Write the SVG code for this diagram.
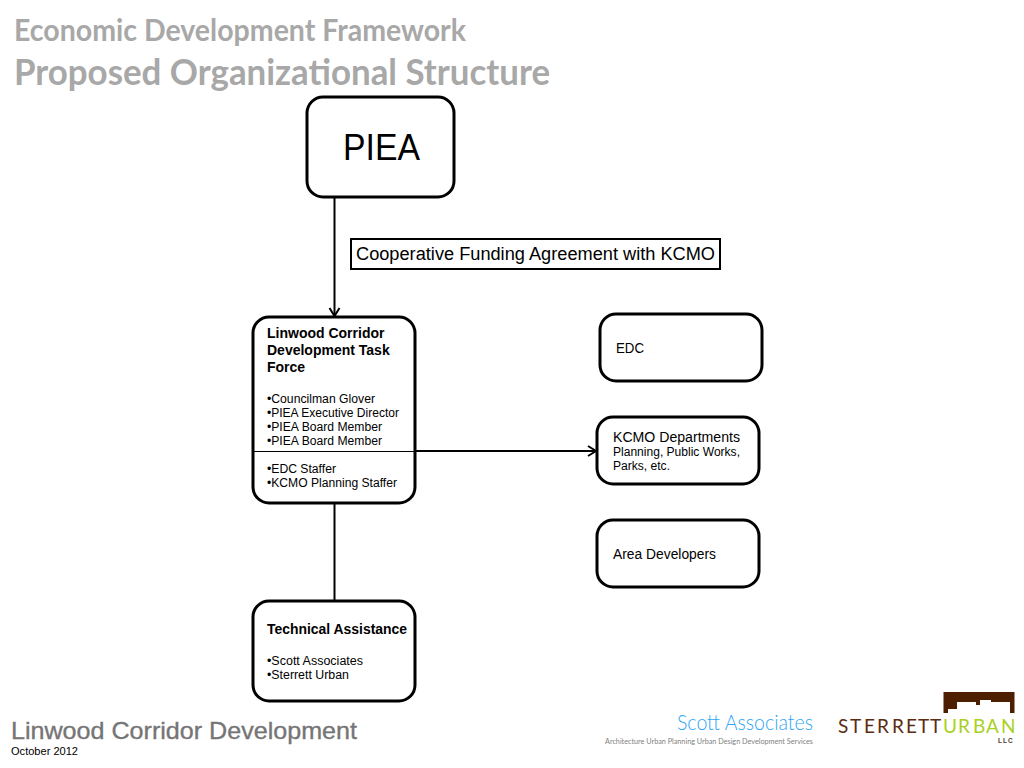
<svg xmlns="http://www.w3.org/2000/svg" width="1024" height="768" viewBox="0 0 1024 768">
<defs>
<marker id="arr" markerUnits="userSpaceOnUse" markerWidth="14" markerHeight="14" refX="10" refY="7" orient="auto"><path d="M2 2L10 7L2 12" fill="none" stroke="#000" stroke-width="2"/></marker>
</defs>
<style>
text{font-family:"Liberation Sans",Arial,sans-serif;fill:#000}
.box{fill:#fff;stroke:#000;stroke-width:3}
.line{stroke:#000;stroke-width:2;fill:none}
.t{font-size:12px}
.b{font-size:14px;font-weight:bold}
.m{font-size:14px}
text.h{font-family:Lato,"Liberation Sans",sans-serif;font-weight:700;fill:#a8a8a8}
text.logo{font-family:Lato,"Liberation Sans",sans-serif;font-size:19px}
</style>
<rect width="1024" height="768" fill="#fff"/>
<g id="title">
<text class="h" x="14" y="41" font-size="30" textLength="452" lengthAdjust="spacingAndGlyphs">Economic Development Framework</text>
<text class="h" x="14" y="85" font-size="37" textLength="536" lengthAdjust="spacingAndGlyphs">Proposed Organizational Structure</text>
</g>
<g id="connectors">
<path class="line" d="M334.500 197V316" marker-end="url(#arr)"/>
<path class="line" d="M415 451H596" marker-end="url(#arr)"/>
<path class="line" d="M334.500 503V601"/>
</g>
<g id="piea">
<rect class="box" x="307" y="97" width="147" height="100" rx="16"/>
<text x="343" y="160" font-size="36" textLength="77" lengthAdjust="spacingAndGlyphs">PIEA</text>
</g>
<g id="funding">
<rect x="351" y="239" width="369" height="30" fill="#fff" stroke="#000" stroke-width="2"/>
<text x="356" y="260" font-size="18" textLength="359" lengthAdjust="spacingAndGlyphs">Cooperative Funding Agreement with KCMO</text>
</g>
<g id="taskforce">
<rect class="box" x="253" y="317" width="162" height="186" rx="16"/>
<path d="M253 451.500H415" stroke="#000" stroke-width="1.200"/>
<text class="b" x="267" y="338">Linwood Corridor</text>
<text class="b" x="267" y="355">Development Task</text>
<text class="b" x="267" y="372">Force</text>
<text class="t" x="267" y="403" textLength="108" lengthAdjust="spacingAndGlyphs">•Councilman Glover</text>
<text class="t" x="267" y="417" textLength="132" lengthAdjust="spacingAndGlyphs">•PIEA Executive Director</text>
<text class="t" x="267" y="431" textLength="115" lengthAdjust="spacingAndGlyphs">•PIEA Board Member</text>
<text class="t" x="267" y="445" textLength="115" lengthAdjust="spacingAndGlyphs">•PIEA Board Member</text>
<text class="t" x="267" y="473" textLength="69" lengthAdjust="spacingAndGlyphs">•EDC Staffer</text>
<text class="t" x="267" y="487" textLength="130" lengthAdjust="spacingAndGlyphs">•KCMO Planning Staffer</text>
</g>
<g id="edc">
<rect class="box" x="600" y="314" width="162" height="67" rx="16"/>
<text class="m" x="616" y="353" textLength="28" lengthAdjust="spacingAndGlyphs">EDC</text>
</g>
<g id="kcmo">
<rect class="box" x="597" y="417" width="162" height="67" rx="16"/>
<text class="m" x="613" y="442" textLength="127" lengthAdjust="spacingAndGlyphs">KCMO Departments</text>
<text class="t" x="613" y="456" textLength="127" lengthAdjust="spacingAndGlyphs">Planning, Public Works,</text>
<text class="t" x="613" y="470" textLength="57" lengthAdjust="spacingAndGlyphs">Parks, etc.</text>
</g>
<g id="developers">
<rect class="box" x="597" y="520" width="162" height="67" rx="16"/>
<text class="m" x="613" y="559" textLength="103" lengthAdjust="spacingAndGlyphs">Area Developers</text>
</g>
<g id="technical">
<rect class="box" x="253" y="601" width="162" height="100" rx="16"/>
<text class="b" x="267" y="634" textLength="140" lengthAdjust="spacingAndGlyphs">Technical Assistance</text>
<text class="t" x="267" y="665" textLength="96" lengthAdjust="spacingAndGlyphs">•Scott Associates</text>
<text class="t" x="267" y="679" textLength="82" lengthAdjust="spacingAndGlyphs">•Sterrett Urban</text>
</g>
<g id="footer">
<text x="11" y="739" font-size="24" style="fill:#757575;stroke:#757575;stroke-width:.35" textLength="346" lengthAdjust="spacingAndGlyphs">Linwood Corridor Development</text>
<text x="11" y="755" font-size="11.200" textLength="67" lengthAdjust="spacingAndGlyphs">October 2012</text>
</g>
<g id="scott-logo">
<text x="677" y="730" font-size="21" style="font-family:Lato,sans-serif;font-weight:300;fill:#2ea6f5" textLength="136" lengthAdjust="spacingAndGlyphs">Scott Associates</text>
<text x="605" y="743.500" font-size="7.500" style="font-family:Lato,sans-serif;font-weight:400;fill:#7f7f7f" textLength="208" lengthAdjust="spacingAndGlyphs">Architecture Urban Planning Urban Design Development Services</text>
</g>
<g id="sterrett-logo">
<path d="M943.500 692H1014.500V713H1010V702H991V700H980V705H976V702H957V709H948V713H943.500Z" fill="#4d1f00"/>
<text class="logo" x="838 850 864 877 892 906 918 930" y="733" style="fill:#5c2c12">STERRETT</text>
<text class="logo" x="943 958 973 986 1001" y="733" style="fill:#a9d11f">URBAN</text>
<text x="998" y="742.500" font-size="6.500" font-weight="bold" letter-spacing="1" style="fill:#4d3b30">LLC</text>
</g>
</svg>
